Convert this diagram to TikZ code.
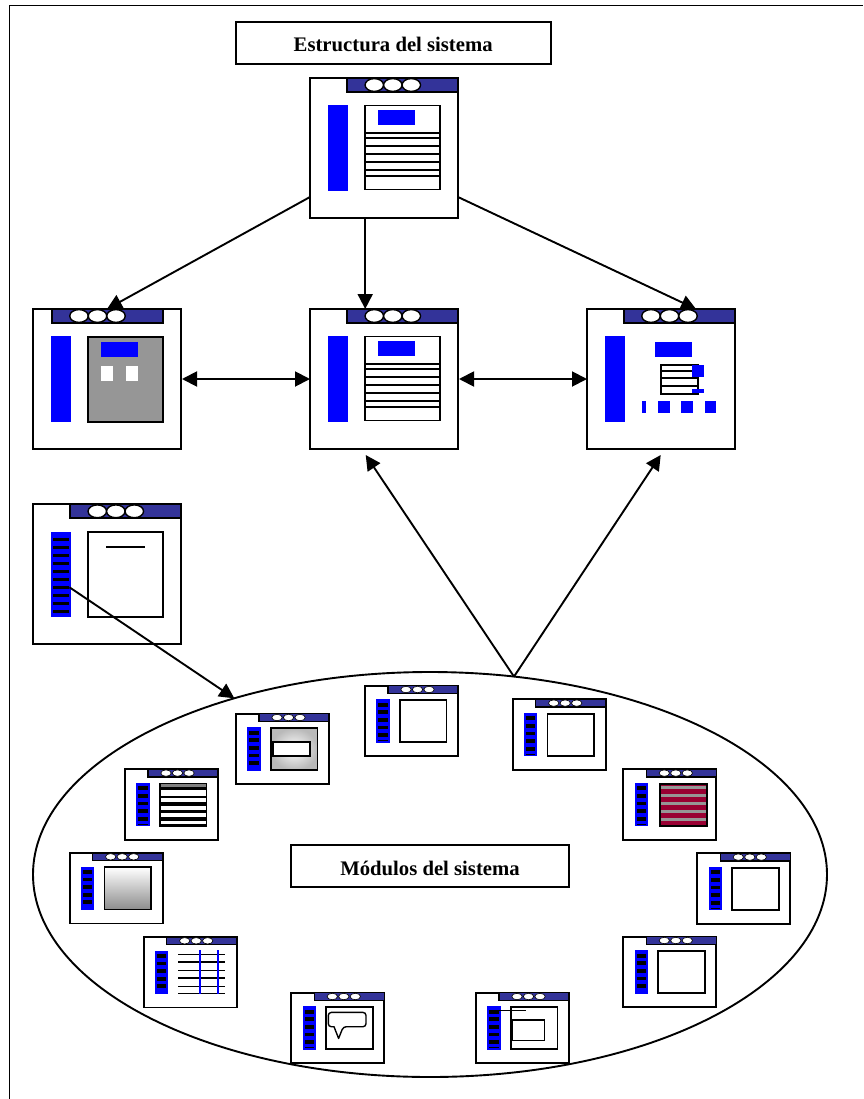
\documentclass[tikz,border=0pt]{standalone}
\usepackage{fontspec}
\setmainfont{Liberation Serif}
\usetikzlibrary{arrows.meta,shapes.geometric,calc}
\definecolor{barblue}{HTML}{333399}
\definecolor{menublue}{HTML}{0000FF}
\definecolor{panelgray}{HTML}{969696}
\definecolor{panelred}{HTML}{990033}
\tikzset{
  ln/.style={line width=1.9pt,draw=black},
  thin ln/.style={line width=1.4pt,draw=black},
  bigframe/.style={rectangle,ln,fill=white,minimum width=148pt,minimum height=140pt,inner sep=0pt,outer sep=0pt,anchor=north west},
  smallframe/.style={rectangle,ln,fill=white,minimum width=93pt,minimum height=70.5pt,inner sep=0pt,outer sep=0pt,anchor=north west},
  titlebox/.style={rectangle,ln,fill=white,inner sep=0pt,outer sep=0pt,font=\fontsize{20.7}{24}\selectfont\bfseries,text height=18pt,text depth=0pt},
  conn/.style={ln,-{Triangle[length=15pt,width=15pt]}},
  both/.style={ln,{Triangle[length=15pt,width=15pt]}-{Triangle[length=15pt,width=15pt]}},
  oval/.style={thin ln,fill=white},
}
% #1 name, #2 x, #3 y, #4 title bar offset, #5 content
\newcommand{\bigwin}[5]{%
  \node[bigframe] (#1) at (#2,#3) {};
  \begin{scope}[shift={(#2,#3)}]
    \fill[menublue] (17.6,27.3) rectangle (38.2,113);
    \filldraw[ln,fill=barblue] (#4,0) rectangle ++(111,14);
    \foreach \k in {0,18.5,37}{\draw[oval] ({#4+27.3+\k},7) ellipse (9.25 and 6.4);}
    #5
  \end{scope}}
% #1 name, #2 x, #3 y, #4 has thin extra stripe (1/0), #5 content
\newcommand{\smallwin}[5]{%
  \node[smallframe] (#1) at (#2,#3) {};
  \begin{scope}[shift={(#2,#3)}]
    \fill[menublue] (11.3,13.5) rectangle (24.7,57);
    \foreach \k in {0,1,2,3,4}{\fill[black] (13.3,{17+7.6*\k}) rectangle (22.7,{20.8+7.6*\k});}
    \ifnum#4=1 \fill[black] (13.3,54.2) rectangle (22.7,55.4);\fi
    \filldraw[ln,line width=1.2pt,fill=barblue] (23,0) rectangle (93,7.6);
    \foreach \k in {41,52.5,64}{\draw[oval,line width=.6pt] (\k,3.8) ellipse (5.2 and 3.2);}
    #5
  \end{scope}}
\newcommand{\listpanel}{%
  \draw[ln] (55.3,27.5) rectangle (129.7,111.5);
  \fill[menublue] (67.8,32) rectangle (104.8,47.3);
  \foreach \v in {55.3,60.3,68,76.3,84.3,92,97.7}{\draw[ln] (55.3,\v) -- (129.7,\v);}}
\newcommand{\emptypanel}{\draw[ln] (34.8,14.3) rectangle (81.5,56.5);}
\begin{document}
\begin{tikzpicture}[x=1pt,y=-1pt]
\useasboundingbox (0,0) rectangle (863,1099);
\fill[white] (0,0) rectangle (863,1099);
\draw[ln] (9.5,1099) -- (9.5,5.5) -- (863,5.5);

\node[titlebox,minimum width=315pt,minimum height=42pt] (estructura) at (393.2,42.7) {Estructura del sistema};

\node[ellipse,ln,minimum width=794pt,minimum height=405pt,inner sep=0pt,outer sep=0pt] (modulos) at (430,874.5) {};
\node[titlebox,minimum width=277.5pt,minimum height=42pt] (modlabel) at (430,866) {Módulos del sistema};

\bigwin{top}{310}{78}{37}{\listpanel}
\bigwin{mid}{310}{309}{37}{\listpanel}
\bigwin{left}{33}{309}{18.7}{%
  \filldraw[ln,fill=panelgray] (55.3,27.7) rectangle (129.7,112.7);
  \fill[menublue] (68,32.7) rectangle (105,48);
  \fill[white] (68,56.7) rectangle (80.3,72);
  \fill[white] (92.7,56.7) rectangle (105,72);}
\bigwin{right}{587}{309}{36.7}{%
  \fill[menublue] (67.7,32.7) rectangle (104.7,48);
  \draw[ln] (73.7,55.7) rectangle (111.3,84.7);
  \foreach \v in {62,69.3,77}{\draw[ln] (73.7,\v) -- (111.3,\v);}
  \fill[menublue] (105,56.3) rectangle (116.7,68);
  \fill[menublue] (105,79.7) rectangle (116.7,84.3);
  \fill[menublue] (55.3,92.3) rectangle (59,104);
  \fill[menublue] (71,92.3) rectangle (82.7,104);
  \fill[menublue] (94.3,92.3) rectangle (106,104);
  \fill[menublue] (117.7,92.3) rectangle (129.3,104);}
\bigwin{menu}{33}{504.3}{37}{%
  \foreach \k in {0,...,9}{\fill[black] (19.7,{33.5+8*\k}) rectangle (36.3,{36.5+8*\k});}
  \draw[ln] (55.3,27.7) rectangle (129.7,112.4);
  \draw[ln] (73,42.4) -- (111.7,42.4);
  \coordinate (menuitem) at (36.5,83);}

\smallwin{modA}{236}{713.7}{0}{%
  \shade[inner color=white,outer color=gray!55] (34.8,14.3) rectangle (81.5,56.5);
  \draw[ln] (34.8,14.3) rectangle (81.5,56.5);
  \filldraw[ln,fill=white] (37,28) rectangle (74.3,42.7);}
\smallwin{modB}{125}{769.3}{1}{%
  \filldraw[ln,fill=black] (34.8,14.3) rectangle (81.5,56.5);
  \fill[gray] (35.8,15) rectangle (80.5,17.4);
  \foreach \a/\b in {20.7/26.4,28.3/32.4,36.4/40.7,44/48,51.7/55}{\fill[white] (35.8,\a) rectangle (80.5,\b);}}
\smallwin{modC}{69.7}{853}{0}{%
  \shade[top color=white,bottom color=gray!90] (34.8,14.3) rectangle (81.5,56.5);
  \draw[ln] (34.8,14.3) rectangle (81.5,56.5);}
\smallwin{modD}{143.7}{937}{0}{%
  \foreach \v/\w in {17.3/.9,25.3/1.7,33.3/.9,41.3/1.7,49.3/.9,56.3/.7}{\draw[black,line width=\w pt] (34.3,\v) -- (81.3,\v);}
  \fill[menublue] (54.8,13.3) rectangle (56.8,57);
  \fill[menublue] (73.3,13.3) rectangle (75.3,57);}
\smallwin{modE}{291.3}{992.7}{1}{%
  \emptypanel
  \draw[thin ln,line join=round,rounded corners=3pt] (37,19.7) -- (74.7,19.7) -- (74.7,34) -- (52,34) [sharp corners] -- (47.3,45.7) -- (42.7,34) [rounded corners=3pt] -- (37,34) -- cycle;}
\smallwin{modF}{476}{992.7}{1}{%
  \emptypanel
  \draw[thin ln] (36.7,27.3) rectangle (68.3,48);
  \draw[line width=1.2pt] (22.3,17.7) -- (50,17.7);}
\smallwin{modG}{623.3}{936.7}{0}{\emptypanel}
\smallwin{modH}{697.3}{853.3}{1}{\emptypanel}
\smallwin{modI}{623.3}{769.3}{1}{%
  \filldraw[ln,fill=panelred] (37,14.3) rectangle (84,56.5);
  \foreach \v in {16.2,24.2,32.2,40.2,48.2}{\fill[panelgray] (37.9,\v) rectangle (83.1,\v+3.6);}}
\smallwin{modJ}{512.7}{699.3}{1}{\emptypanel}
\smallwin{modK}{365}{685.7}{1}{\emptypanel}

% connectors
\draw[conn] ([yshift=21pt]top.south west) -- ([xshift=74pt]left.north west);
\draw[conn] ([xshift=55.2pt]top.south west) -- ([xshift=55.2pt]mid.north west);
\draw[conn] ([yshift=21pt]top.south east) -- ([xshift=109pt]right.north west);
\draw[both] ([xshift=1pt,yshift=-70pt]left.north east) -- ([yshift=-70pt]mid.north west);
\draw[both] ([xshift=1pt,yshift=-70pt]mid.north east) -- ([yshift=-70pt]right.north west);
\coordinate (apex) at (modulos.67.3);
\draw[conn] (apex) -- ([xshift=55.7pt,yshift=-6pt]mid.south west);
\draw[conn] (apex) -- ([xshift=73.7pt,yshift=-6pt]right.south west);
\draw[conn] (menuitem) -- (modulos.138);
\end{tikzpicture}
\end{document}
